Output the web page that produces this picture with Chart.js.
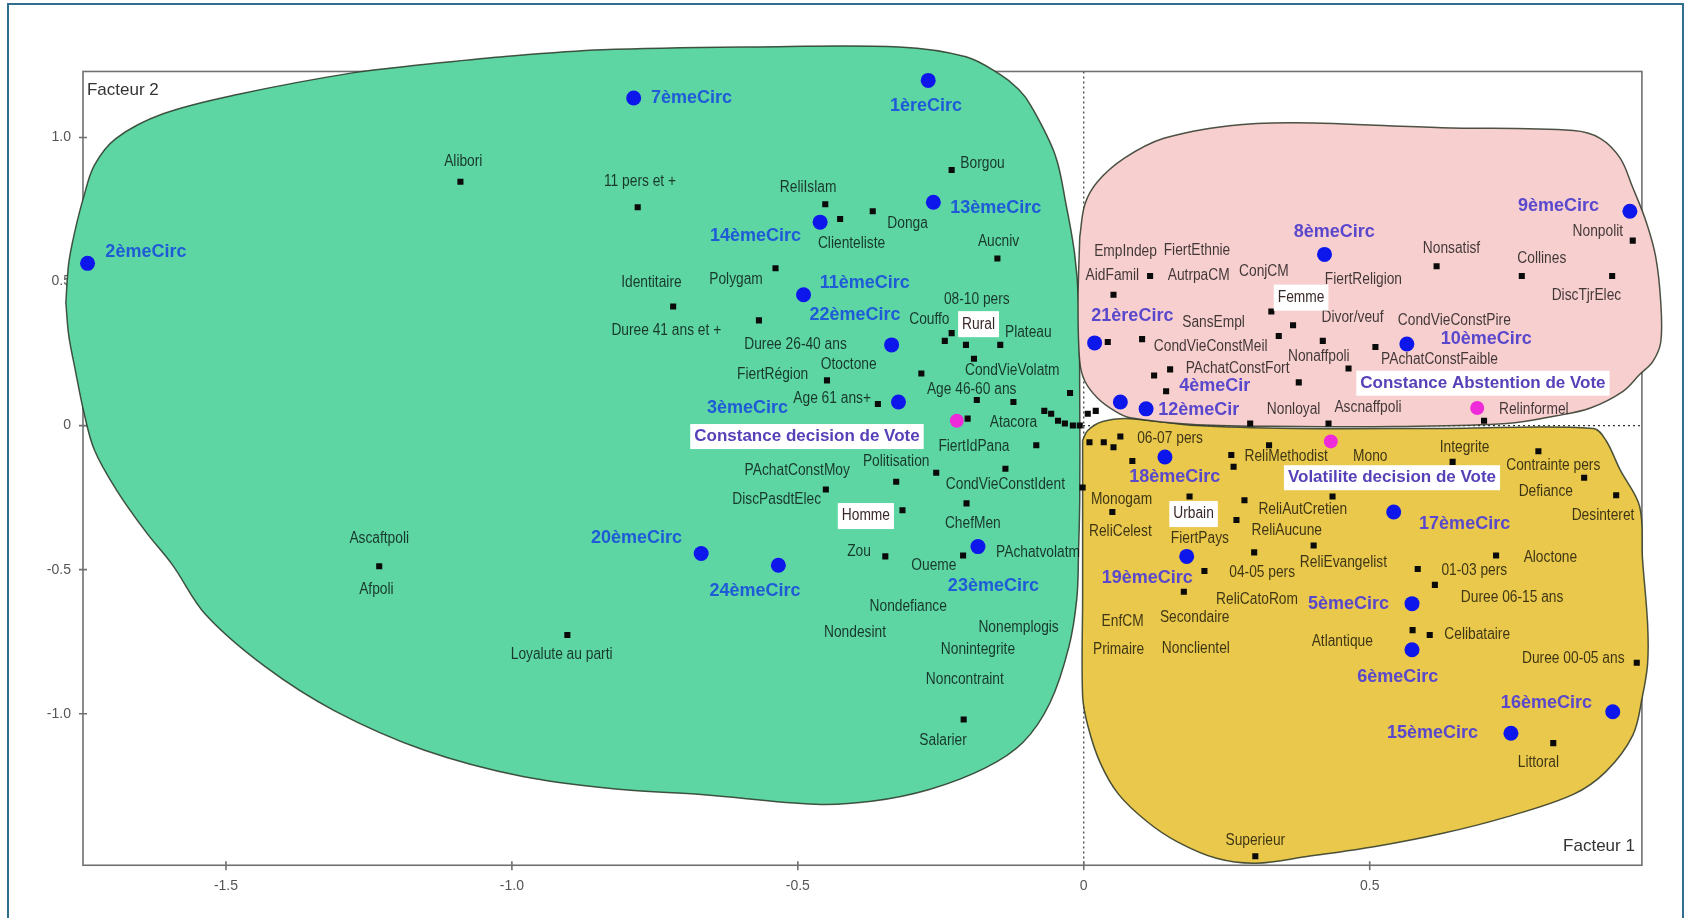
<!DOCTYPE html>
<html><head><meta charset="utf-8">
<script src="https://cdn.jsdelivr.net/npm/chart.js@4.4.1/dist/chart.umd.min.js"></script>
<style>html,body{margin:0;padding:0;background:#fff;}#wrap{width:1686px;height:918px;position:relative;}</style>
</head><body><div id="wrap"><canvas id="c"></canvas></div>
<script>
// ---------- axes ----------
const xTicks = [-1.5, -1.0, -0.5, 0, 0.5];
const yTicks = [-1.0, -0.5, 0, 0.5, 1.0];
const frameX = [-1.750, 0.976];
const frameY = [-1.526, 1.229];
const viewX = [-1.882, 1.040];
const viewY = [-1.683, 1.451];
const axisTitles = ['Facteur 1', 'Facteur 2'];

// ---------- circonscriptions (blue) ----------
const circNames = ['1èreCirc','2èmeCirc','3èmeCirc','4èmeCir','5èmeCirc','6èmeCirc','7èmeCirc','8èmeCirc','9èmeCirc','10èmeCirc','11èmeCirc','12èmeCir','13èmeCirc','14èmeCirc','15èmeCirc','16èmeCirc','17èmeCirc','18èmeCirc','19èmeCirc','20èmeCirc','21èreCirc','22èmeCirc','23èmeCirc','24èmeCirc'];
const circX = [-0.272,-1.742,-0.324,0.064,0.574,0.574,-0.787,0.421,0.955,0.565,-0.490,0.109,-0.263,-0.461,0.747,0.925,0.542,0.142,0.180,-0.669,0.019,-0.336,-0.185,-0.534];
const circY = [1.198,0.563,0.082,0.082,-0.618,-0.778,1.137,0.594,0.744,0.283,0.454,0.058,0.775,0.706,-1.068,-0.993,-0.300,-0.109,-0.454,-0.444,0.287,0.280,-0.420,-0.485];
const circLabelX = [-0.276,-1.640,-0.588,0.229,0.463,0.549,-0.686,0.438,0.830,0.704,-0.383,0.201,-0.154,-0.574,0.610,0.809,0.666,0.159,0.111,-0.782,0.085,-0.400,-0.158,-0.575];
const circLabelY = [1.109,0.604,0.061,0.137,-0.621,-0.874,1.137,0.672,0.761,0.300,0.495,0.055,0.754,0.659,-1.068,-0.962,-0.341,-0.177,-0.529,-0.389,0.379,0.382,-0.556,-0.573];

// ---------- comportements de vote (magenta) ----------
const magNames = ['Constance decision de Vote','Constance Abstention de Vote','Volatilite decision de Vote'];
const magX = [-0.222, 0.688, 0.432];
const magY = [0.017, 0.061, -0.055];
const magLabelX = [-0.484, 0.698, 0.539];
const magLabelY = [-0.038, 0.147, -0.181];

// ---------- modalités (black squares) ----------
const sqX = [-1.090,-0.780,-0.718,-0.568,-0.539,-0.452,-0.426,-0.369,-0.231,-0.151,-0.231,-0.243,-0.206,-0.146,-0.192,-0.284,-0.449,-0.360,-0.187,-0.123,-0.203,-0.328,-0.451,-0.258,-0.137,-0.205,-0.317,-0.347,-0.211,-0.210,-0.903,-1.232,-0.024,-0.083,
  -0.069,-0.057,-0.045,-0.033,-0.019,-0.007,0.007,0.021,
  0.010,0.035,0.052,0.064,0.085,-0.002,0.050,0.185,0.281,0.267,0.298,0.211,0.175,0.258,0.262,0.324,0.300,0.435,0.402,0.645,0.795,0.875,0.931,0.584,0.614,0.721,0.575,0.605,0.967,0.821,0.291,0.428,0.700,
  0.052,0.116,0.042,0.102,0.123,0.151,0.144,0.328,0.366,0.341,0.418,0.510,0.463,0.376,0.617,0.766,0.924,0.960];
const sqY = [0.846,0.758,0.413,0.365,0.546,0.768,0.717,0.744,0.887,0.580,0.321,0.294,0.280,0.280,0.232,0.181,0.157,0.075,0.089,0.082,0.024,-0.195,-0.222,-0.164,-0.150,-0.270,-0.294,-0.454,-0.451,-1.020,-0.727,-0.488,0.113,-0.068,
  0.051,0.041,0.017,0.007,0.000,0.000,0.041,0.051,
  -0.058,-0.058,-0.075,-0.038,-0.123,-0.215,-0.300,-0.246,-0.259,-0.328,-0.440,-0.505,-0.577,-0.102,-0.143,-0.068,-1.495,-0.246,-0.416,-0.126,-0.089,-0.181,-0.242,-0.498,-0.553,-0.451,-0.710,-0.727,-0.823,-1.102,0.007,0.007,0.017,
  0.454,0.519,0.290,0.300,0.174,0.195,0.119,0.396,0.348,0.311,0.294,0.273,0.198,0.150,0.553,0.519,0.519,0.642];

const modNames = ['Alibori','11 pers et +','Identitaire','Duree 41 ans et +','Polygam','ReliIslam','Clienteliste','Donga','Borgou','Aucniv','08-10 pers','Couffo','Plateau','Duree 26-40 ans','Otoctone','FiertRégion','CondVieVolatm','Age 46-60 ans','Age 61 ans+','Atacora','FiertIdPana','Politisation','PAchatConstMoy','CondVieConstIdent','DiscPasdtElec','ChefMen','Zou','Oueme','PAchatvolatm','Nondefiance','Nondesint','Nonemplogis','Nonintegrite','Noncontraint','Salarier','Loyalute au parti','Ascaftpoli','Afpoli',
  'EmpIndep','FiertEthnie','AidFamil','AutrpaCM','ConjCM','SansEmpl','CondVieConstMeil','PAchatConstFort','FiertReligion','Nonsatisf','Collines','Nonpolit','DiscTjrElec','Divor/veuf','CondVieConstPire','Nonaffpoli','PAchatConstFaible','Nonloyal','Ascnaffpoli','Relinformel',
  '06-07 pers','ReliMethodist','Mono','Integrite','Contrainte pers','Defiance','Desinteret','Monogam','ReliCelest','FiertPays','ReliAutCretien','ReliAucune','ReliEvangelist','04-05 pers','ReliCatoRom','01-03 pers','Aloctone','Duree 06-15 ans','Atlantique','Celibataire','Duree 00-05 ans','Littoral','EnfCM','Secondaire','Primaire','Nonclientel','Superieur'];
const modLabelX = [-1.085,-0.776,-0.756,-0.730,-0.608,-0.482,-0.406,-0.308,-0.177,-0.149,-0.187,-0.270,-0.097,-0.504,-0.411,-0.544,-0.125,-0.196,-0.440,-0.123,-0.192,-0.328,-0.501,-0.137,-0.537,-0.194,-0.393,-0.262,-0.080,-0.307,-0.400,-0.114,-0.185,-0.208,-0.246,-0.913,-1.232,-1.237,
  0.073,0.198,0.050,0.201,0.315,0.227,0.222,0.269,0.489,0.643,0.801,0.899,0.879,0.470,0.648,0.411,0.622,0.367,0.497,0.787,
  0.151,0.354,0.501,0.666,0.821,0.808,0.908,0.066,0.064,0.203,0.383,0.355,0.454,0.312,0.303,0.683,0.816,0.749,0.452,0.688,0.856,0.795,0.068,0.194,0.061,0.196,0.300];
const modLabelY = [0.915,0.846,0.495,0.331,0.505,0.826,0.631,0.700,0.908,0.638,0.437,0.369,0.324,0.280,0.212,0.177,0.191,0.126,0.092,0.010,-0.072,-0.126,-0.157,-0.205,-0.256,-0.341,-0.437,-0.485,-0.440,-0.628,-0.720,-0.700,-0.778,-0.881,-1.092,-0.795,-0.392,-0.570,
  0.604,0.608,0.522,0.522,0.536,0.358,0.273,0.198,0.505,0.614,0.580,0.672,0.451,0.375,0.365,0.239,0.229,0.055,0.061,0.055,
  -0.044,-0.109,-0.106,-0.075,-0.140,-0.229,-0.314,-0.256,-0.369,-0.392,-0.290,-0.365,-0.474,-0.509,-0.604,-0.505,-0.457,-0.597,-0.751,-0.727,-0.809,-1.171,-0.679,-0.666,-0.778,-0.775,-1.440];

// ---------- boxed modalities ----------
const boxNames = ['Rural','Homme','Femme','Urbain'];
const boxX = [-0.184,-0.381,0.380,0.192];
const boxY = [0.352,-0.314,0.444,-0.307];

// ---------- cluster outlines ----------
const greenX = [-1.780,-1.775,-1.764,-1.749,-1.730,-1.692,-1.610,-1.478,-1.276,-1.154,-1.016,-0.842,-0.582,-0.322,-0.206,-0.149,-0.114,-0.092,-0.050,-0.031,-0.016,-0.009,-0.007,-0.007,-0.009,-0.012,-0.026,-0.059,-0.106,-0.172,-0.270,-0.371,-0.470,-0.669,-0.808,-0.981,-1.154,-1.310,-1.432,-1.536,-1.593,-1.640,-1.692,-1.730,-1.749,-1.764,-1.775];
const greenY = [0.427,0.563,0.676,0.792,0.904,0.997,1.082,1.150,1.225,1.253,1.280,1.304,1.314,1.314,1.280,1.222,1.167,1.109,0.939,0.768,0.597,0.427,0.085,-0.256,-0.427,-0.597,-0.768,-0.962,-1.099,-1.188,-1.263,-1.304,-1.314,-1.280,-1.263,-1.218,-1.126,-0.990,-0.836,-0.655,-0.485,-0.369,-0.222,-0.085,0.051,0.198,0.314];
const pinkX = [-0.007,0.002,0.024,0.071,0.140,0.255,0.371,0.626,0.856,0.903,0.938,0.960,0.983,1.000,1.009,1.009,0.995,0.972,0.943,0.886,0.827,0.740,0.544,0.371,0.198,0.081,0.054,0.024,0.002,-0.007,-0.010];
const pinkY = [0.655,0.768,0.846,0.928,0.997,1.041,1.051,1.034,1.024,0.997,0.928,0.826,0.710,0.587,0.427,0.290,0.222,0.177,0.119,0.061,0.034,0.007,-0.003,-0.003,0.003,0.027,0.051,0.096,0.154,0.222,0.427];
const yellowX = [-0.002,0.007,0.033,0.081,0.198,0.371,0.631,0.891,0.913,0.938,0.972,0.977,0.986,0.986,0.977,0.960,0.913,0.856,0.740,0.626,0.510,0.393,0.302,0.232,0.163,0.111,0.061,0.028,0.007,-0.002,-0.002,-0.002];
const yellowY = [-0.051,-0.017,0.014,0.024,0.000,-0.010,-0.010,-0.010,-0.051,-0.154,-0.280,-0.461,-0.689,-0.826,-0.939,-1.075,-1.201,-1.280,-1.358,-1.416,-1.461,-1.495,-1.519,-1.502,-1.444,-1.375,-1.280,-1.167,-1.041,-0.939,-0.597,-0.256];

// ---------- helpers ----------
const FONT = '"Liberation Sans", Arial, Helvetica, sans-serif';
const pts = (xs, ys) => xs.map((x, i) => ({x: x, y: ys[i]}));
const closed = (xs, ys) => { const p = pts(xs, ys); p.push({x: xs[0], y: ys[0]}); return p; };

function narrowText(ctx, text, px, py, font, color, sx, align) {
  ctx.save();
  ctx.font = font; ctx.fillStyle = color;
  ctx.textAlign = align || 'center'; ctx.textBaseline = 'middle';
  ctx.translate(px, py); ctx.scale(sx, 1);
  ctx.fillText(text, 0, 0);
  ctx.restore();
}
function boxText(ctx, text, px, py, font, color, sx, padX, padY, size) {
  ctx.save();
  ctx.font = font;
  const w = ctx.measureText(text).width * sx;
  ctx.fillStyle = '#ffffff';
  ctx.fillRect(px - w / 2 - padX, py - size / 2 - padY, w + 2 * padX, size + 2 * padY);
  ctx.restore();
  narrowText(ctx, text, px, py, font, color, sx);
}

const framePlugin = {
  id: 'frame',
  beforeDatasetsDraw(chart) {
    const {ctx, scales: {x, y}} = chart;
    const L = x.getPixelForValue(frameX[0]), R = x.getPixelForValue(frameX[1]);
    const T = y.getPixelForValue(frameY[1]), B = y.getPixelForValue(frameY[0]);
    const x0 = x.getPixelForValue(0), y0 = y.getPixelForValue(0);
    ctx.save();
    ctx.strokeStyle = '#333'; ctx.lineWidth = 1.2; ctx.setLineDash([2, 3]);
    ctx.beginPath(); ctx.moveTo(x0, T); ctx.lineTo(x0, B); ctx.moveTo(L, y0); ctx.lineTo(R, y0); ctx.stroke();
    ctx.setLineDash([]);
    ctx.strokeStyle = '#707070'; ctx.lineWidth = 1.6;
    ctx.strokeRect(L, T, R - L, B - T);
    ctx.beginPath();
    xTicks.forEach(v => { const p = x.getPixelForValue(v); ctx.moveTo(p, B - 4); ctx.lineTo(p, B + 5); });
    yTicks.forEach(v => { const p = y.getPixelForValue(v); ctx.moveTo(L - 4, p); ctx.lineTo(L + 4, p); });
    ctx.stroke();
    const fmt = v => v === 0 ? '0' : v.toFixed(1);
    ctx.fillStyle = '#555'; ctx.font = '14px ' + FONT;
    ctx.textAlign = 'center'; ctx.textBaseline = 'middle';
    xTicks.forEach(v => ctx.fillText(fmt(v), x.getPixelForValue(v), B + 21));
    ctx.textAlign = 'right';
    yTicks.forEach(v => ctx.fillText(fmt(v), L - 12, y.getPixelForValue(v)));
    ctx.fillStyle = '#333'; ctx.font = '17px ' + FONT;
    ctx.textAlign = 'left'; ctx.fillText(axisTitles[1], L + 4, T + 19);
    ctx.textAlign = 'right'; ctx.fillText(axisTitles[0], R - 7, B - 19);
    ctx.restore();
  }
};

const labelPlugin = {
  id: 'labels',
  afterDatasetsDraw(chart) {
    const {ctx, scales: {x, y}} = chart;
    modNames.forEach((t, i) => narrowText(ctx, t, x.getPixelForValue(modLabelX[i]), y.getPixelForValue(modLabelY[i]), '16px ' + FONT, 'rgba(0,0,0,0.74)', 0.86));
    boxNames.forEach((t, i) => boxText(ctx, t, x.getPixelForValue(boxX[i]), y.getPixelForValue(boxY[i]), '16px ' + FONT, '#3a2828', 0.86, 4, 5, 16));
    circNames.forEach((t, i) => narrowText(ctx, t, x.getPixelForValue(circLabelX[i]), y.getPixelForValue(circLabelY[i]), 'bold 18px ' + FONT, circX[i] < 0 ? '#1f5bd6' : '#5a48cc', 1));
    magNames.forEach((t, i) => boxText(ctx, t, x.getPixelForValue(magLabelX[i]), y.getPixelForValue(magLabelY[i]), 'bold 17px ' + FONT, '#5840b8', 1, 4, 4, 17));
  },
  afterDraw(chart) {
    const {ctx, width, height} = chart;
    ctx.save();
    ctx.strokeStyle = '#2f6e8c'; ctx.lineWidth = 2;
    ctx.beginPath(); ctx.moveTo(8, height); ctx.lineTo(8, 4); ctx.lineTo(width - 3, 4); ctx.lineTo(width - 3, height); ctx.stroke();
    ctx.restore();
  }
};

const blob = (label, xs, ys, color, order) => ({
  label: label, data: closed(xs, ys), showLine: true, fill: 'shape',
  backgroundColor: color, borderColor: 'rgba(45,55,40,0.85)', borderWidth: 1.5,
  pointRadius: 0, tension: 0.35, order: order
});

new Chart(document.getElementById('c'), {
  type: 'scatter',
  data: {
    datasets: [
      blob('Classe 1', greenX, greenY, '#5dd6a4', 12),
      blob('Classe 3', yellowX, yellowY, '#e9c84b', 11),
      blob('Classe 2', pinkX, pinkY, '#f8cfcf', 10),
      {label: 'Modalités', data: pts(sqX, sqY), pointStyle: 'rect', pointRadius: 4.3, backgroundColor: '#0a0a0a', borderWidth: 0, order: 3},
      {label: 'Circonscriptions', data: pts(circX, circY), pointStyle: 'circle', pointRadius: 7.5, backgroundColor: '#0d17ec', borderWidth: 0, order: 2},
      {label: 'Comportement de vote', data: pts(magX, magY), pointStyle: 'circle', pointRadius: 7, backgroundColor: '#ef2bd9', borderWidth: 0, order: 1}
    ]
  },
  options: {
    responsive: true, maintainAspectRatio: false, animation: false,
    layout: {padding: 0},
    elements: {line: {capBezierPoints: false}},
    scales: {
      x: {type: 'linear', min: viewX[0], max: viewX[1], display: false},
      y: {type: 'linear', min: viewY[0], max: viewY[1], display: false}
    },
    plugins: {legend: {display: false}, tooltip: {enabled: false}}
  },
  plugins: [framePlugin, labelPlugin]
});
</script></body></html>
